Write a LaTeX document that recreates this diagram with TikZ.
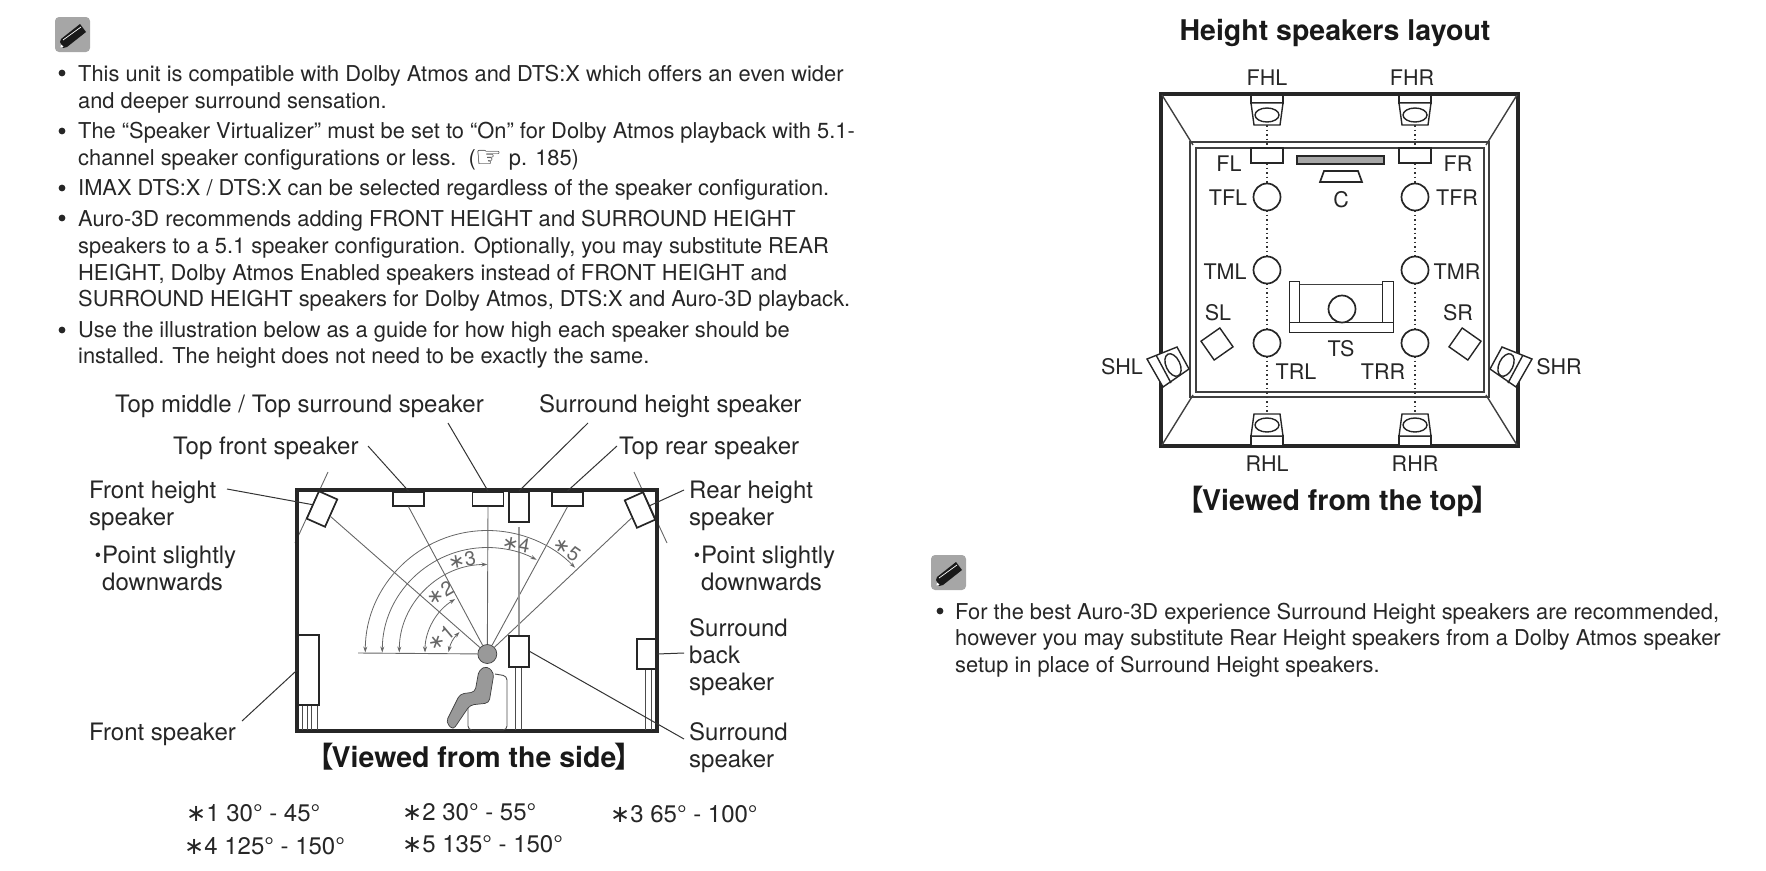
\documentclass[tikz,border=0pt]{standalone}
\usepackage{fontspec}
\setmainfont{TeX Gyre Heros}
\newfontfamily\dejavu{DejaVu Sans}
\newfontfamily\cjk{Noto Sans CJK SC}
\usetikzlibrary{arrows.meta,positioning,calc,shapes.geometric}
\newcommand{\stark}{{\dejavu ∗}}
\newcommand{\viewed}[1]{{\cjk\bfseries 【}\kern-2pt#1\kern-2pt{\cjk\bfseries 】}}
\newcommand{\smalldot}{\llap{\raisebox{2pt}{\fontsize{18}{18}\selectfont•}\kern1pt}}
\begin{document}
\begin{tikzpicture}[x=1pt,y=1pt,yscale=-1,>={Stealth[length=6pt,width=4pt]},
body/.style={font=\fontsize{21.85}{26.7}\selectfont,inner sep=0,align=left,anchor=west,text=black!85},
lab/.style={font=\fontsize{24}{27}\selectfont,inner sep=0,text=black!85},
toplab/.style={font=\fontsize{21.5}{26.7}\selectfont,inner sep=0,text=black!85},
head/.style={font=\bfseries\fontsize{28.5}{32}\selectfont,inner sep=0,text=black!90},
spk/.style={draw=black!85,line width=1.7pt,fill=white,inner sep=0},
wall/.style={draw=black!85,line width=3.2pt},
thinwall/.style={draw=black!75,line width=1pt},
leader/.style={draw=black!80,line width=1pt},
ray/.style={draw=black!60,line width=.9pt},
dimarc/.style={draw=black!60,line width=.8pt,<->},
stand/.style={draw=black!70,line width=.9pt},
dots/.style={draw=black!80,line width=1.5pt,dash pattern=on 1.5pt off 3pt},
star/.style={font=\fontsize{20}{22}\selectfont,inner sep=0,text=black!60},
cone/.style={draw=black!85,line width=1.4pt,fill=white,inner sep=0},
note/.pic={\fill[black!35,rounded corners=4pt] (0,0) rectangle (35,35);
\fill[black!90] (5,10) -- (8,4) -- (12,5) -- (31,20) -- (25,28) -- (6,13) -- cycle;
\draw[white,line width=.7pt] (8,12) -- (26,25);
\fill[white] (5.5,4.5) -- (6,7.5) -- (8.5,5.5) -- cycle;}]
\useasboundingbox (0,0) rectangle (1766,870);
% notes, left column
\pic at (55,52) {note};
\foreach \y in {73,131,188,218,330} \fill[black!85] (62,\y) circle (3.4);
\node[body] (t1) at (78,89.5) {This unit is compatible with Dolby Atmos and DTS:X which offers an even wider\\and deeper surround sensation.};
\node[body] (t2) at (78,146.5) {The “Speaker Virtualizer” must be set to “On” for Dolby Atmos playback with 5.1-\\channel speaker configurations or less.\ \ ({\dejavu\fontsize{30}{26}\selectfont\smash{\raisebox{-2pt}{☞}}} p. 185)};
\node[body] (t3) at (78,190) {IMAX DTS:X / DTS:X can be selected regardless of the speaker configuration.};
\node[body] (t4) at (78,261) {Auro-3D recommends adding FRONT HEIGHT and SURROUND HEIGHT\\speakers to a 5.1 speaker configuration. Optionally, you may substitute REAR\\HEIGHT, Dolby Atmos Enabled speakers instead of FRONT HEIGHT and\\SURROUND HEIGHT speakers for Dolby Atmos, DTS:X and Auro-3D playback.};
\node[body] (t5) at (78,345) {Use the illustration below as a guide for how high each speaker should be\\installed. The height does not need to be exactly the same.};
% side view
\draw[ray] (328,472) -- (295,543) (634,472) -- (667,543);
\draw[wall] (297,490) rectangle (657,731);
\foreach \x in {302,307,311,317} \draw[stand] (\x,705) -- (\x,730);
\foreach \x in {515,521,645,651} \draw[stand] (\x,667) -- (\x,730);
\draw[stand,rounded corners=4pt] (495,674) -- (507,676) -- (507,730) -- (468,730) -- (468,706);
\node[spk,minimum width=20,minimum height=30,rotate=-24] (fh) at (322,509) {};
\node[spk,minimum width=20,minimum height=30,rotate=24] (rh) at (640,510) {};
\node[spk,minimum width=31,minimum height=14,anchor=north] (tf) at (408.5,491) {};
\node[spk,minimum width=31,minimum height=14,anchor=north] (tm) at (488,491) {};
\node[spk,minimum width=20,minimum height=30,anchor=north] (sh) at (519,491) {};
\node[spk,minimum width=31,minimum height=14,anchor=north] (tr) at (567.5,491) {};
\node[spk,minimum width=20,minimum height=31] (ss) at (519,651.5) {};
\node[spk,minimum width=19,minimum height=30] (sb) at (646.5,654) {};
\node[spk,minimum width=21,minimum height=70] (fs) at (308.5,670) {};
\node[draw=black!75,fill=black!40,line width=.7pt,circle,minimum size=19,inner sep=0] (hd) at (487.3,654) {};
\draw[ray] (358,653) -- (hd);
\draw[ray] (fh) -- (hd);
\draw[ray] (tf.south) -- (hd);
\draw[ray] (tm.south) -- (hd);
\draw[ray] (tr.south) -- (hd);
\draw[ray] (rh) -- (hd);
\draw[draw=black!40,line width=1.2pt,shorten <=4] (sh.south) -- (ss.north);
\draw[draw=black!75,fill=black!40,line width=.7pt,rounded corners=4pt] (479,670) -- (475,692) -- (460,694) -- (446,722) -- (453,730) -- (470,705) -- (489,703) -- (494,673) -- (487,666) -- cycle;
\draw[dimarc] (448.5,652) to[bend right=16] (459.5,632);
\draw[dimarc] (425,652.5) arc[start angle=180,end angle=239,radius=62.3];
\draw[dimarc] (399.3,652.5) arc[start angle=180,end angle=270,radius=88];
\draw[dimarc] (382.3,652.5) arc[start angle=180,end angle=298,radius=105];
\draw[dimarc] (365.3,652.5) arc[start angle=180,end angle=316,radius=122];
\node[star,rotate=40] (s1) at (441,638) {\stark1};
\node[star,rotate=30] (s2) at (440,593) {\stark2};
\node[star,rotate=10] (s3) at (462,560) {\stark3};
\node[star,rotate=-10] (s4) at (516,544) {\stark4};
\node[star,rotate=-35] (s5) at (567,549) {\stark5};
% labels of the side view
\node[lab,anchor=west] (lfh) at (89,505.5) [align=left] {Front height\\speaker};
\node[lab,anchor=west] (lfhp) at (102,568) [align=left] {\smalldot Point slightly\\downwards};
\node[lab,anchor=west] (ltf) at (173,448) {Top front speaker};
\node[lab,anchor=west] (ltm) at (115,406) {Top middle / Top surround speaker};
\node[lab,anchor=west] (lsh) at (539,406) {Surround height speaker};
\node[lab,anchor=west] (ltr) at (619,448) {Top rear speaker};
\node[lab,anchor=west] (lrh) at (689,505.5) [align=left] {Rear height\\speaker};
\node[lab,anchor=west] (lrhp) at (701,568) [align=left] {\smalldot Point slightly\\downwards};
\node[lab,anchor=west] (lsb) at (689,657.5) [align=left] {Surround\\back\\speaker};
\node[lab,anchor=west] (lfs) at (89,734) {Front speaker};
\node[lab,anchor=west] (lss) at (689,747.5) [align=left] {Surround\\speaker};
\coordinate (cfh) at (227,489);
\coordinate (ctm) at (448,423);
\coordinate (csh) at (588,423);
\coordinate (crh) at (684,490);
\coordinate (cfs) at (242,721);
\coordinate (css) at (684,739);
\coordinate (ctf) at (368,446);
\coordinate (ctr) at (617,446);
\coordinate (csb) at (684,653);
\draw[leader] (cfh) -- (fh.west);
\draw[leader] (ctf) -- (tf.north);
\draw[leader] (ctm) -- (tm.north);
\draw[leader] (csh) -- (sh.north);
\draw[leader] (ctr) -- (tr.north);
\draw[leader] (crh) -- (rh.east);
\draw[leader] (sb.east) -- (csb);
\draw[leader] (cfs) -- (fs.west);
\draw[leader] (ss.east) -- (css);
\node[head] (vside) at (474,757) {\viewed{Viewed from the side}};
\node[lab,anchor=west] (n1) at (186,813) {\stark1 30° - 45°};
\node[lab,anchor=west] (n2) at (402,812) {\stark2 30° - 55°};
\node[lab,anchor=west] (n3) at (610,814) {\stark3 65° - 100°};
\node[lab,anchor=west] (n4) at (184,846) {\stark4 125° - 150°};
\node[lab,anchor=west] (n5) at (402,844) {\stark5 135° - 150°};
% top view
\node[head] (title) at (1335,33) {Height speakers layout};
\draw[wall,line width=3.4pt] (1161,94) rectangle (1518,446);
\draw[thinwall,line width=1.2pt] (1190,142) rectangle (1489,397);
\draw[thinwall,line width=1.2pt] (1196,148) rectangle (1484,392);
\draw[thinwall,line width=1.4pt] (1162,95) -- (1193,145) (1517,95) -- (1486,145) (1162,445) -- (1193,395) (1517,445) -- (1486,395);
\foreach \x/\n in {1267/l,1415/r}{
\draw[dots] (\x,125) -- (\x,148) (\x,163) -- (\x,184) (\x,210) -- (\x,257) (\x,283) -- (\x,330) (\x,356) -- (\x,414);
\draw[spk,line width=1.4pt] (\x-16,95) rectangle (\x+16,103);
\draw[spk,line width=1.4pt] (\x-16,103) -- (\x+16,103) -- (\x+13,125) -- (\x-13,125) -- cycle;
\node[cone,ellipse,minimum width=24,minimum height=14] (fh\n) at (\x,115) {};
\draw[spk,line width=1.4pt] (\x-16,436) rectangle (\x+16,446);
\draw[spk,line width=1.4pt] (\x-16,436) -- (\x+16,436) -- (\x+13,414) -- (\x-13,414) -- cycle;
\node[cone,ellipse,minimum width=24,minimum height=14] (rh\n) at (\x,425) {};
\node[spk,minimum width=32,minimum height=15] (f\n) at (\x,155.5) {};
\node[spk,circle,minimum size=27] (tf\n) at (\x,197) {};
\node[spk,circle,minimum size=27] (tm\n) at (\x,270) {};
\node[spk,circle,minimum size=27] (tr\n) at (\x,343) {};
}
\node[draw=black!85,line width=1.4pt,fill=black!35,minimum width=87,minimum height=8,inner sep=0] (tv) at (1340.5,160) {};
\draw[spk] (1320,182) -- (1362,182) -- (1358,171) -- (1324,171) -- cycle;
\draw[thinwall] (1299,284) -- (1382,284);
\node[spk,line width=1pt,minimum width=10,minimum height=41,anchor=north west] (arml) at (1289,281) {};
\node[spk,line width=1pt,minimum width=11,minimum height=41,anchor=north west] (armr) at (1382,281) {};
\node[spk,line width=1pt,minimum width=104,minimum height=10,anchor=north west] (base) at (1289,322) {};
\node[spk,circle,minimum size=27] (ts) at (1342,309) {};
\node[spk,line width=1.4pt,minimum size=23,rotate=35] (sl) at (1217,344) {};
\node[spk,line width=1.4pt,minimum size=23,rotate=-35] (sr) at (1465,344) {};
\draw[spk,line width=1.4pt] (1147,359) -- (1177,347) -- (1189,369) -- (1163,387) -- cycle (1156,355) -- (1171,383);
\node[cone,ellipse,minimum width=24,minimum height=14,rotate=-65] (shl) at (1173,365) {};
\draw[spk,line width=1.4pt] (1532,359) -- (1502,347) -- (1490,369) -- (1516,387) -- cycle (1523,355) -- (1508,383);
\node[cone,ellipse,minimum width=24,minimum height=14,rotate=65] (shr) at (1506,365) {};
\foreach \x/\y/\t in {1267/78/FHL,1412/78/FHR,1229/164/FL,1458/164/FR,1228/198/TFL,1457/198/TFR,1341/200/C,1225/272/TML,1457/272/TMR,1218/313/SL,1458/313/SR,1122/367/SHL,1559/367/SHR,1341/349/TS,1296/372/TRL,1383/372/TRR,1267/464/RHL,1415/464/RHR}
\node[toplab] (l\t) at (\x,\y) {\t};
\node[head] (vtop) at (1338,501) {\viewed{Viewed from the top}};
% notes, right column
\pic at (931,590) {note};
\fill[black!85] (940,611) circle (3.4);
\node[body] (t6) at (955,640) {For the best Auro-3D experience Surround Height speakers are recommended,\\however you may substitute Rear Height speakers from a Dolby Atmos speaker\\setup in place of Surround Height speakers.};
\end{tikzpicture}
\end{document}
